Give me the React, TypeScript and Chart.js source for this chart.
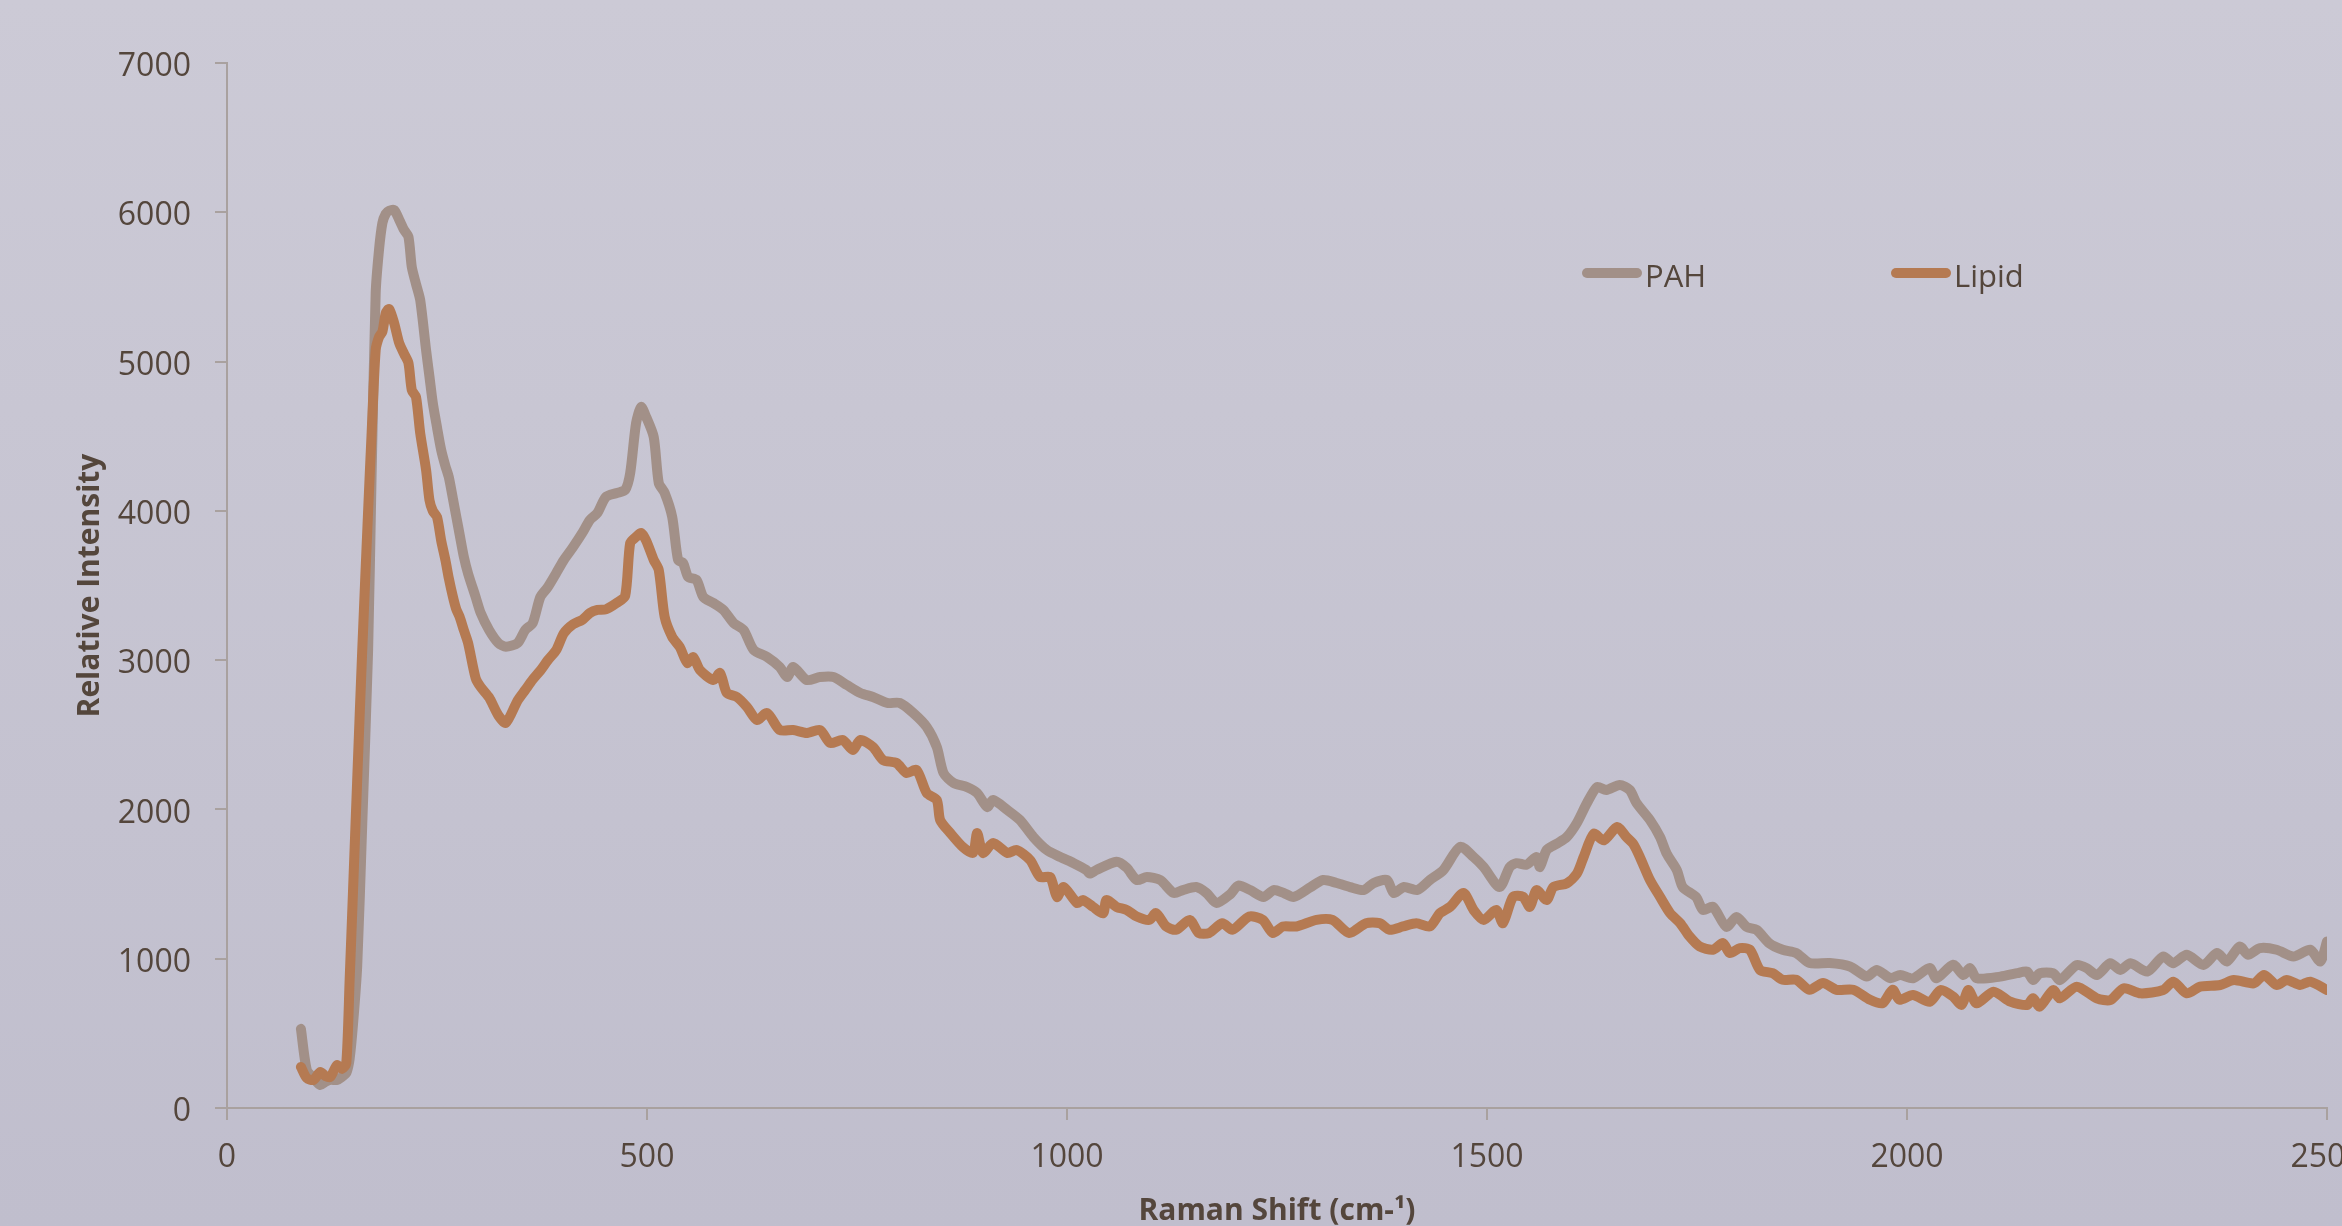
import React, { useEffect, useRef } from "react";
import { Chart, registerables } from "chart.js";

Chart.register(...registerables);

// ---- Data ----
const seriesNames = ["PAH", "Lipid"];

const pahShift = [
  88, 95, 103, 111, 117, 123, 131, 137, 142, 146, 150, 155, 161, 168, 172, 177, 181, 185, 189, 193,
  199, 205, 211, 216, 220, 225, 230, 237, 241, 245, 250, 255, 260, 264, 269, 273, 277, 282, 287, 296,
  302, 312, 323, 332, 346, 355, 364, 373, 382, 392, 401, 412, 423, 432, 441, 451, 464, 474, 480, 487,
  493, 499, 508, 514, 521, 530, 537, 543, 549, 559, 567, 579, 591, 603, 615, 627, 643, 658, 667, 674,
  690, 706, 722, 738, 754, 769, 786, 801, 817, 833, 845, 853, 865, 881, 893, 905, 912, 929, 944, 960,
  976, 992, 1008, 1023, 1027, 1035, 1059, 1071, 1083, 1095, 1111, 1127, 1138, 1154, 1166, 1178, 1194, 1204, 1218, 1234,
  1246, 1258, 1270, 1290, 1305, 1321, 1337, 1353, 1365, 1381, 1389, 1401, 1417, 1432, 1448, 1468, 1484, 1496, 1515, 1527,
  1535, 1547, 1559, 1563, 1571, 1583, 1595, 1607, 1619, 1631, 1642, 1658, 1670, 1678, 1694, 1706, 1714, 1726, 1733, 1749,
  1757, 1769, 1785, 1797, 1809, 1821, 1836, 1852, 1868, 1884, 1908, 1932, 1952, 1964, 1980, 1992, 2007, 2027, 2035, 2055,
  2067, 2075, 2083, 2111, 2131, 2143, 2150, 2158, 2174, 2182, 2202, 2214, 2226, 2242, 2254, 2266, 2286, 2305, 2317, 2333,
  2353, 2369, 2381, 2396, 2406, 2420, 2440, 2460, 2480, 2492, 2500,
];
const pahIntensity = [
  530, 255, 200, 154, 175, 188, 188, 210, 234, 330, 560, 950, 1900, 3068, 4200, 5459, 5750, 5928, 5990, 6010,
  6015, 5950, 5880, 5836, 5633, 5520, 5412, 5077, 4900, 4722, 4560, 4407, 4300, 4227, 4080, 3960, 3840, 3691, 3580, 3423,
  3316, 3202, 3115, 3090, 3115, 3202, 3249, 3423, 3490, 3584, 3671, 3758, 3852, 3939, 3986, 4093, 4120, 4140, 4254, 4588,
  4696, 4629, 4495, 4187, 4120, 3959, 3671, 3650, 3557, 3537, 3423, 3383, 3336, 3249, 3202, 3068, 3021, 2954, 2887, 2954,
  2867, 2887, 2887, 2833, 2780, 2753, 2713, 2713, 2646, 2552, 2418, 2244, 2177, 2150, 2110, 2016, 2063, 1996, 1929, 1815,
  1728, 1681, 1640, 1594, 1570, 1594, 1650, 1610, 1527, 1547, 1527, 1440, 1460, 1480, 1440, 1373, 1430, 1490, 1460, 1414,
  1460, 1440, 1414, 1480, 1527, 1507, 1480, 1460, 1507, 1527, 1440, 1480, 1460, 1527, 1594, 1750, 1681, 1614, 1480, 1614,
  1640, 1630, 1681, 1614, 1728, 1770, 1815, 1909, 2043, 2150, 2130, 2164, 2130, 2043, 1929, 1815, 1703, 1594, 1480, 1413,
  1327, 1347, 1213, 1280, 1213, 1193, 1104, 1060, 1038, 971, 971, 948, 881, 925, 870, 891, 869, 937, 869, 960,
  891, 937, 869, 880, 903, 914, 857, 903, 903, 857, 958, 937, 891, 970, 925, 970, 914, 1015, 970, 1027,
  958, 1038, 982, 1082, 1027, 1071, 1060, 1015, 1060, 982, 1116,
];

const lipidShift = [
  88, 95, 103, 111, 117, 123, 131, 137, 142, 146, 150, 155, 161, 168, 172, 177, 181, 185, 189, 193,
  199, 205, 211, 216, 220, 225, 230, 237, 241, 245, 250, 255, 260, 264, 269, 273, 277, 282, 287, 296,
  302, 312, 323, 332, 346, 355, 364, 373, 382, 392, 401, 412, 423, 432, 441, 451, 464, 474, 480, 487,
  493, 499, 508, 514, 521, 530, 539, 548, 555, 563, 579, 587, 595, 607, 619, 631, 643, 658, 674, 690,
  706, 718, 733, 745, 754, 769, 781, 797, 809, 821, 833, 845, 849, 861, 876, 888, 893, 900, 912, 929,
  940, 956, 968, 980, 988, 996, 1012, 1019, 1031, 1043, 1047, 1059, 1071, 1083, 1098, 1106, 1118, 1130, 1146, 1157,
  1169, 1185, 1197, 1217, 1233, 1245, 1257, 1273, 1297, 1316, 1336, 1356, 1372, 1384, 1400, 1416, 1432, 1444, 1456, 1472,
  1484, 1496, 1511, 1519, 1531, 1543, 1551, 1559, 1571, 1579, 1595, 1607, 1615, 1627, 1639, 1655, 1666, 1674, 1682, 1694,
  1706, 1718, 1730, 1741, 1753, 1769, 1781, 1789, 1801, 1813, 1825, 1840, 1852, 1868, 1884, 1900, 1916, 1936, 1956, 1971,
  1983, 1991, 2007, 2027, 2040, 2055, 2065, 2073, 2083, 2103, 2123, 2143, 2150, 2158, 2174, 2182, 2202, 2226, 2242, 2258,
  2278, 2305, 2317, 2333, 2349, 2373, 2389, 2413, 2425, 2440, 2452, 2468, 2480, 2500,
];
const lipidIntensity = [
  275, 200, 188, 241, 215, 208, 288, 262, 300, 857, 1450, 2200, 3068, 4000, 4500, 5077, 5164, 5200, 5325, 5352,
  5258, 5124, 5050, 4990, 4809, 4763, 4521, 4274, 4073, 4000, 3959, 3800, 3671, 3550, 3423, 3340, 3289, 3200, 3115, 2880,
  2820, 2750, 2630, 2580, 2730, 2800, 2870, 2930, 3000, 3068, 3180, 3240, 3270, 3316, 3336, 3340, 3383, 3430, 3785, 3826,
  3852, 3800, 3671, 3604, 3290, 3155, 3088, 2981, 3021, 2934, 2867, 2914, 2780, 2753, 2686, 2599, 2646, 2532, 2532, 2512,
  2532, 2445, 2465, 2398, 2465, 2418, 2331, 2311, 2244, 2264, 2110, 2063, 1929, 1842, 1748, 1708, 1842, 1708, 1775, 1708,
  1728, 1661, 1547, 1547, 1414, 1480, 1373, 1393, 1347, 1305, 1393, 1347, 1327, 1283, 1260, 1305, 1216, 1194, 1260, 1172,
  1172, 1238, 1194, 1283, 1260, 1172, 1216, 1216, 1260, 1260, 1172, 1238, 1238, 1194, 1216, 1238, 1216, 1305, 1347, 1440,
  1327, 1260, 1327, 1238, 1414, 1414, 1347, 1460, 1393, 1480, 1505, 1570, 1681, 1837, 1793, 1882, 1815, 1770, 1681, 1527,
  1414, 1305, 1238, 1150, 1083, 1060, 1105, 1038, 1071, 1060, 925, 903, 859, 859, 792, 837, 792, 792, 725, 703,
  792, 725, 757, 712, 790, 746, 690, 790, 701, 779, 712, 690, 735, 679, 790, 735, 813, 735, 723, 802,
  768, 790, 846, 768, 813, 824, 857, 835, 891, 824, 857, 824, 846, 790,
];

const xTickValues = [0, 500, 1000, 1500, 2000, 2500];
const yTickValues = [0, 1000, 2000, 3000, 4000, 5000, 6000, 7000];
const xTitle = "Raman Shift (cm-\u00B9)";
const yTitle = "Relative Intensity";

// ---- Styles ----
const W = 2342;
const H = 1226;
const FONT = "'Open Sans', 'Noto Sans', sans-serif";
const TEXT = "#54463C";
const AXIS = "#A9A19F";
const COLORS = ["#A29088", "#B57A52"];

export default function App() {
  const ref = useRef<HTMLCanvasElement>(null);

  useEffect(() => {
    const canvas = ref.current;
    if (!canvas) return;

    const toPoints = (xs: number[], ys: number[]) => xs.map((x, i) => ({ x, y: ys[i] }));

    const bgPlugin = {
      id: "bgGradient",
      beforeDraw(chart: any) {
        const { ctx, width, height } = chart;
        const g = ctx.createLinearGradient(0, 0, 0, height);
        g.addColorStop(0, "#CCCAD6");
        g.addColorStop(1, "#C0BECD");
        ctx.save();
        ctx.fillStyle = g;
        ctx.fillRect(0, 0, width, height);
        ctx.restore();
      },
    };

    const legendPlugin = {
      id: "insideLegend",
      afterDraw(chart: any) {
        const { ctx } = chart;
        const items = [
          { x: 1587, name: seriesNames[0], color: COLORS[0] },
          { x: 1896, name: seriesNames[1], color: COLORS[1] },
        ];
        ctx.save();
        items.forEach((it) => {
          ctx.strokeStyle = it.color;
          ctx.lineWidth = 10;
          ctx.lineCap = "round";
          ctx.beginPath();
          ctx.moveTo(it.x, 273);
          ctx.lineTo(it.x + 50, 273);
          ctx.stroke();
          ctx.fillStyle = TEXT;
          ctx.font = `31px ${FONT}`;
          ctx.textAlign = "left";
          ctx.textBaseline = "alphabetic";
          ctx.fillText(it.name, it.x + 58, 287);
        });
        ctx.restore();
      },
    };

    const plainLabel = (v: any) => String(v);

    const chart = new Chart(canvas, {
      type: "line",
      data: {
        datasets: [
          {
            label: seriesNames[0],
            data: toPoints(pahShift, pahIntensity),
            borderColor: COLORS[0],
            backgroundColor: COLORS[0],
            borderWidth: 10,
            pointRadius: 0,
            tension: 0.25,
            borderJoinStyle: "round",
            borderCapStyle: "round",
            fill: false,
            order: 1,
          },
          {
            label: seriesNames[1],
            data: toPoints(lipidShift, lipidIntensity),
            borderColor: COLORS[1],
            backgroundColor: COLORS[1],
            borderWidth: 10,
            pointRadius: 0,
            tension: 0.25,
            borderJoinStyle: "round",
            borderCapStyle: "round",
            fill: false,
            order: 0,
          },
        ],
      },
      options: {
        responsive: false,
        animation: false,
        devicePixelRatio: 1,
        layout: { padding: { top: 63, right: 15, bottom: 0, left: 0 } },
        plugins: {
          legend: { display: false },
          tooltip: { enabled: false },
        },
        scales: {
          x: {
            type: "linear",
            position: "bottom",
            min: 0,
            max: 2500,
            afterBuildTicks: (scale: any) => {
              scale.ticks = xTickValues.map((v) => ({ value: v }));
            },
            afterFit: (scale: any) => {
              scale.height = H - 1108;
              scale.paddingLeft = 0;
              scale.paddingRight = 0;
            },
            grid: {
              display: true,
              drawOnChartArea: false,
              drawTicks: true,
              tickLength: 12,
              color: AXIS,
              lineWidth: 2,
            },
            border: { display: true, color: AXIS, width: 2 },
            ticks: {
              color: TEXT,
              font: { family: FONT, size: 32 },
              padding: 19,
              maxRotation: 0,
              autoSkip: false,
              callback: plainLabel,
            },
            title: {
              display: true,
              text: xTitle,
              color: TEXT,
              font: { family: FONT, size: 30, weight: "bold", lineHeight: 1 },
              padding: { top: 0, bottom: 0 },
            },
          },
          y: {
            type: "linear",
            position: "left",
            min: 0,
            max: 7000,
            afterBuildTicks: (scale: any) => {
              scale.ticks = yTickValues.map((v) => ({ value: v }));
            },
            afterFit: (scale: any) => {
              scale.width = 227;
              scale.paddingTop = 0;
              scale.paddingBottom = 0;
            },
            grid: {
              display: true,
              drawOnChartArea: false,
              drawTicks: true,
              tickLength: 12,
              color: AXIS,
              lineWidth: 2,
            },
            border: { display: true, color: AXIS, width: 2 },
            ticks: {
              color: TEXT,
              font: { family: FONT, size: 32 },
              padding: 24,
              labelOffset: 4,
              callback: plainLabel,
            },
            title: {
              display: true,
              text: yTitle,
              color: TEXT,
              font: { family: FONT, size: 30, weight: "bold", lineHeight: 1 },
              padding: { top: 75, bottom: 0 },
            },
          },
        },
      },
      plugins: [bgPlugin, legendPlugin],
    } as any);

    return () => chart.destroy();
  }, []);

  return (
    <div style={{ position: "fixed", left: 0, top: 0, width: W, height: H, overflow: "hidden" }}>
      <canvas ref={ref} width={W} height={H} style={{ display: "block", width: W, height: H }} />
    </div>
  );
}
